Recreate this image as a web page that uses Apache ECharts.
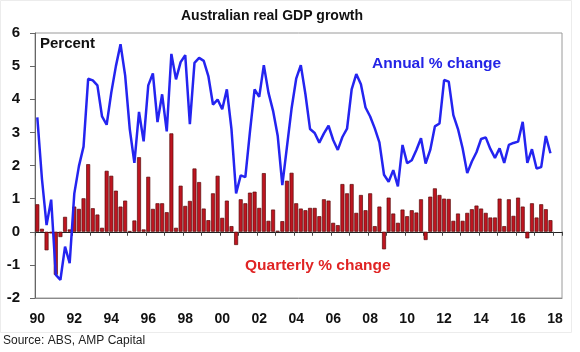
<!DOCTYPE html>
<html>
<head>
<meta charset="utf-8">
<script src="https://cdn.jsdelivr.net/npm/echarts@6/dist/echarts.min.js"></script>
<style>
  html, body { margin: 0; padding: 0; background: #fff; }
  #chart { width: 580px; height: 352px; }
</style>
</head>
<body>
<div id="chart"></div>
<script>
// quarterly data, Mar 1990 .. Dec 2017
const tickLabels = ['90', '92', '94', '96', '98', '00', '02', '04', '06', '08', '10', '12', '14', '16', '18'];

const annualChange = [
  3.45, 1.6, 0.2, 0.97, -1.3, -1.45, -0.45, -0.95,
  1.15, 1.98, 2.57, 4.62, 4.57, 4.42, 3.48, 3.23,
  4.2, 5.0, 5.66, 4.72, 3.1, 2.08, 3.62, 2.73,
  4.42, 4.78, 3.31, 4.15, 3.03, 5.37, 4.6, 5.12,
  5.33, 3.25, 5.1, 5.25, 5.16, 4.7, 3.84, 3.99,
  3.7, 4.3, 3.1, 1.16, 1.7, 1.65, 3.02, 4.3,
  4.07, 5.03, 4.2, 3.65, 2.9, 1.41, 2.56, 3.72,
  4.62, 5.03, 4.15, 3.1, 2.98, 2.69, 2.97, 3.2,
  2.77, 2.47, 2.86, 3.11, 4.3, 4.76, 4.45, 3.75,
  3.48, 3.12, 2.7, 1.72, 1.51, 1.86, 1.37, 2.62,
  2.07, 2.16, 2.47, 2.82, 2.06, 2.47, 3.18, 3.27,
  4.58, 4.53, 3.52, 3.1, 2.52, 1.77, 2.12, 2.4,
  2.8, 2.85, 2.5, 2.23, 2.52, 2.08, 2.62, 2.68,
  2.72, 3.32, 2.08, 2.49, 1.91, 1.95, 2.89, 2.37
];

const quarterlyChange = [
  0.83, 0.09, -0.56, -0.05, -1.3, -0.16, 0.45, 0.07,
  0.76, 0.69, 1.01, 2.04, 0.71, 0.52, 0.12, 1.84,
  1.69, 1.24, 0.76, 0.94, 0.02, 0.34, 2.25, 0.07,
  1.66, 0.69, 0.86, 0.86, 0.59, 2.97, 0.12, 1.39,
  0.78, 0.93, 1.91, 1.5, 0.7, 0.35, 1.16, 1.69,
  0.42, 0.94, 0.17, -0.4, 0.98, 0.86, 1.18, 1.21,
  0.72, 1.77, 0.33, 0.67, 0.03, 0.32, 1.54, 1.78,
  0.86, 0.7, 0.65, 0.72, 0.72, 0.47, 0.98, 0.94,
  0.27, 0.2, 1.44, 1.16, 1.44, 0.57, 1.11, 0.65,
  1.16, 0.17, 0.76, -0.53, 1.03, 0.55, 0.27, 0.67,
  0.47, 0.65, 0.58, 0.98, -0.25, 1.06, 1.31, 1.11,
  1.0, 0.99, 0.33, 0.55, 0.33, 0.57, 0.68, 0.79,
  0.7, 0.57, 0.43, 0.43, 1.0, 0.17, 0.98, 0.48,
  1.03, 0.76, -0.2, 0.86, 0.43, 0.83, 0.68, 0.35
];

// axis runs a little past the last quarter (to Jun 2018)
const quarters = [];
for (let y = 1990; y <= 2018; y++) {
  for (let q = 1; q <= 4; q++) {
    if (y === 2018 && q > 2) break;
    quarters.push(y + 'Q' + q);
  }
}

const chart = echarts.init(document.getElementById('chart'));

const option = {
  animation: false,
  backgroundColor: '#fff',
  grid: {
    left: 35, right: 18, top: 33, bottom: 54,
    show: true, borderColor: '#9a9a9a', borderWidth: 1
  },
  xAxis: [
    {
      type: 'category',
      data: quarters,
      position: 'bottom',
      axisLine: { onZero: false, lineStyle: { color: '#8a8a8a' } },
      axisTick: { show: false },
      axisLabel: {
        interval: 7,
        margin: 14,
        color: '#111',
        fontFamily: 'Liberation Sans',
        fontWeight: 'bold',
        fontSize: 14,
        formatter: (v, i) => tickLabels[i / 8]
      }
    },
    {
      // zero line with yearly ticks
      type: 'category',
      data: quarters,
      position: 'top',
      axisLine: { onZero: true, lineStyle: { color: '#222', width: 1 } },
      axisTick: { show: true, inside: true, interval: 3, length: 4, lineStyle: { color: '#444' } },
      axisLabel: { show: false }
    }
  ],
  yAxis: {
    type: 'value',
    min: -2, max: 6, interval: 1,
    axisLine: { show: true, lineStyle: { color: '#666' } },
    axisTick: { show: true, length: 5, lineStyle: { color: '#666' } },
    splitLine: { show: false },
    axisLabel: {
      margin: 15,
      color: '#111',
      fontFamily: 'Liberation Sans',
      fontWeight: 'bold',
      fontSize: 15
    }
  },
  series: [
    {
      name: 'Quarterly % change',
      type: 'bar',
      xAxisIndex: 0,
      data: quarterlyChange,
      barCategoryGap: '14%',
      itemStyle: { color: '#be1520', borderColor: '#5a0a0a', borderWidth: 0.7 }
    },
    {
      name: 'Annual % change',
      type: 'line',
      xAxisIndex: 0,
      data: annualChange,
      symbol: 'none',
      lineStyle: { color: '#2424f0', width: 2.5 },
      z: 3
    }
  ],
  graphic: [
    {
      type: 'rect', silent: true, z: -1,
      shape: { x: 0.5, y: 0.5, width: 571, height: 332 },
      style: { fill: 'none', stroke: '#ececec', lineWidth: 1 }
    },
    {
      type: 'text', x: 272, y: 16,
      style: { text: 'Australian real GDP growth', font: 'bold 14px "Liberation Sans"', fill: '#111', textAlign: 'center', textVerticalAlign: 'middle' }
    },
    {
      type: 'text', x: 40, y: 44,
      style: { text: 'Percent', font: 'bold 15px "Liberation Sans"', fill: '#111', textVerticalAlign: 'middle' }
    },
    {
      type: 'text', x: 372, y: 64,
      style: { text: 'Annual % change', font: 'bold 15.5px "Liberation Sans"', fill: '#2424e6', textVerticalAlign: 'middle' }
    },
    {
      type: 'text', x: 245, y: 266,
      style: { text: 'Quarterly % change', font: 'bold 15.5px "Liberation Sans"', fill: '#e02424', textVerticalAlign: 'middle' }
    },
    {
      type: 'text', x: 3, y: 341,
      style: { text: 'Source: ABS, AMP Capital', font: '12px "Liberation Sans"', fill: '#222', textVerticalAlign: 'middle' }
    }
  ]
};

chart.setOption(option);
</script>
</body>
</html>
